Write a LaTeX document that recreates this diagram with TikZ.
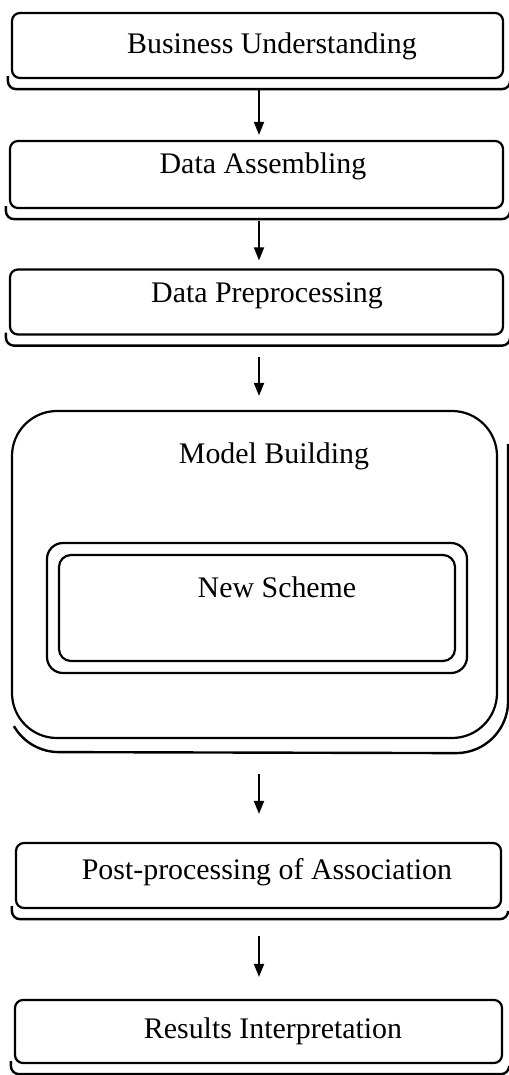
\documentclass[tikz,border=0pt]{standalone}
\usepackage{fontspec}
\setmainfont{Liberation Serif}
\usetikzlibrary{arrows.meta,calc}

\begin{document}
\begin{tikzpicture}[x=1bp,y=-1bp,
  box/.style={draw, line width=2.2bp, rounded corners=8bp, inner sep=0pt},
  bigbox/.style={draw, line width=2.2bp, rounded corners=45bp, inner sep=0pt},
  framebox/.style={draw, line width=2.2bp, inner sep=0pt},
  shadowln/.style={line width=2.4bp, rounded corners=8bp},
  lbl/.style={inner sep=0pt, font=\fontsize{30}{36}\selectfont},
  arr/.style={line width=1.8bp, -{Triangle[length=13bp,width=10bp]}}]

\useasboundingbox (0,0) rectangle (509,1075);

% process steps
\node[box, minimum width=491bp, minimum height=65bp] (b1) at (257.5,45.5) {};
\node[box, minimum width=493bp, minimum height=67bp] (b2) at (256.5,174.5) {};
\node[box, minimum width=493bp, minimum height=65bp] (b3) at (256.5,302) {};
\node[bigbox, minimum width=485bp, minimum height=327bp] (mb) at (254.5,574.5) {};
\node[framebox, rounded corners=16bp, minimum width=420bp, minimum height=130bp] (ns) at (257,608) {};
\node[framebox, rounded corners=12bp, minimum width=396bp, minimum height=106bp] (nsi) at (257,608) {};
\node[box, minimum width=485bp, minimum height=65bp] (b5) at (258.5,875.5) {};
\node[box, minimum width=487bp, minimum height=63bp] (b6) at (258.5,1031.5) {};

% labels
\node[lbl] (t1) at (272,46) {Business Understanding};
\node[lbl] (t2) at (263,166) {Data Assembling};
\node[lbl] (t3) at (267,296) {Data Preprocessing};
\node[lbl] (tm) at (274,456) {Model Building};
\node[lbl] (tn) at (277,587) {New Scheme};
\node[lbl] (t5) at (267,872) {Post-processing of Association};
\node[lbl] (t6) at (273,1031) {Results Interpretation};

% offset outlines under the step boxes
\foreach \b in {b1,b2,b3,b5,b6}{
  \draw[shadowln] ($(\b.south west)+(-3,-3)$) |- ($(\b.south east)+(6,10)$) -- ($(\b.south east)+(6,2)$);
}
\draw[line width=2.4bp] ($(mb.south west)+(3,-13)$) arc[start angle=150, end angle=90, radius=52]
  -- ($(mb.south east)+(-42,14)$) arc[start angle=90, end angle=0, radius=52]
  -- ($(mb.north east)+(10,34)$);

% flow arrows
\coordinate (a1s) at ($(b1.south)+(1.5,11)$);
\coordinate (a1e) at ($(b2.north)+(2.5,-5)$);
\draw[arr] (a1s) -- (a1e);
\coordinate (a2s) at ($(b2.south)+(2.5,12)$);
\coordinate (a2e) at ($(b3.north)+(2.5,-8)$);
\draw[arr] (a2s) -- (a2e);
\coordinate (a3s) at ($(b3.south)+(2.5,21)$);
\coordinate (a3e) at ($(mb.north)+(4.5,-14)$);
\draw[arr] (a3s) -- (a3e);
\coordinate (a4s) at ($(mb.south)+(4.5,35)$);
\coordinate (a4e) at ($(b5.north)+(0.5,-28)$);
\draw[arr] (a4s) -- (a4e);
\coordinate (a5s) at ($(b5.south)+(0.5,27)$);
\coordinate (a5e) at ($(b6.north)+(0.5,-22)$);
\draw[arr] (a5s) -- (a5e);
\end{tikzpicture}
\end{document}
